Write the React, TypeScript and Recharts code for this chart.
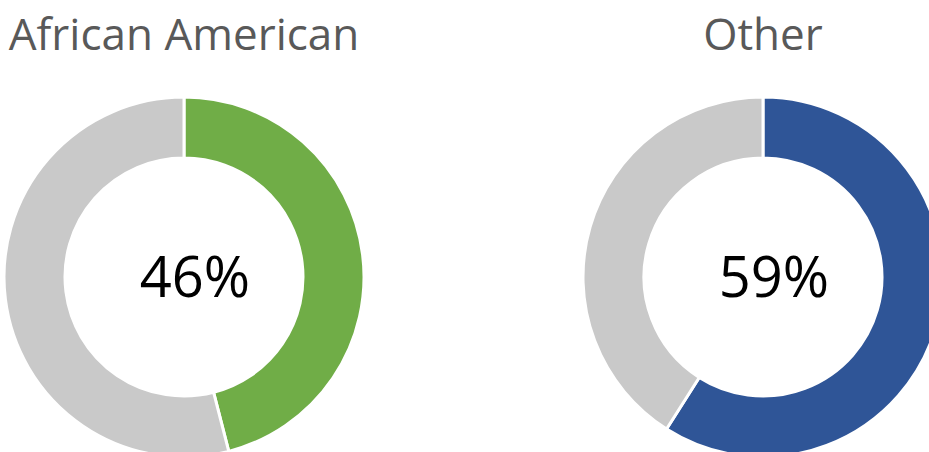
import { PieChart, Pie, Cell, Label } from 'recharts';

// share of each group, remainder drawn in gray
const groups = ['African American', 'Other'];
const shares = [46, 59];
const accentColors = ['#70AD47', '#2F5597'];
const restColor = '#C9C9C9';

const WIDTH = 929;
const HEIGHT = 452;
const centersX = [184, 763];
const CY = 277;
const BOX = 368; // each donut gets a box centered on it
const font = '"Open Sans", sans-serif';

export default function App() {
  return (
    <div
      style={{
        position: 'fixed',
        left: 0,
        top: 0,
        width: WIDTH,
        height: HEIGHT,
        overflow: 'hidden',
        background: '#fff',
      }}
    >
      {groups.map((g, i) => (
        <div key={g}>
          <div
            style={{
              position: 'absolute',
              left: centersX[i] - 250,
              width: 500,
              top: 11,
              textAlign: 'center',
              fontFamily: font,
              fontSize: 44,
              lineHeight: 1,
              color: '#595959',
              whiteSpace: 'nowrap',
            }}
          >
            {g}
          </div>
          <div
            style={{
              position: 'absolute',
              left: centersX[i] - BOX / 2,
              top: CY - BOX / 2,
            }}
          >
            <PieChart
              width={BOX}
              height={BOX}
              margin={{ top: 0, right: 0, bottom: 0, left: 0 }}
              style={{ overflow: 'visible' }}
            >
              <Pie
                data={[
                  { name: g, value: shares[i] },
                  { name: 'rest', value: 100 - shares[i] },
                ]}
                dataKey="value"
                cx="50%"
                cy="50%"
                innerRadius={119}
                outerRadius={180}
                startAngle={90}
                endAngle={-270}
                stroke="#fff"
                strokeWidth={3}
                isAnimationActive={false}
              >
                <Cell fill={accentColors[i]} />
                <Cell fill={restColor} />
                <Label
                  position="center"
                  value={`${shares[i]}%`}
                  dx={11}
                  style={{ fontFamily: font, fontSize: 56, fill: '#000' }}
                />
              </Pie>
            </PieChart>
          </div>
        </div>
      ))}
    </div>
  );
}
